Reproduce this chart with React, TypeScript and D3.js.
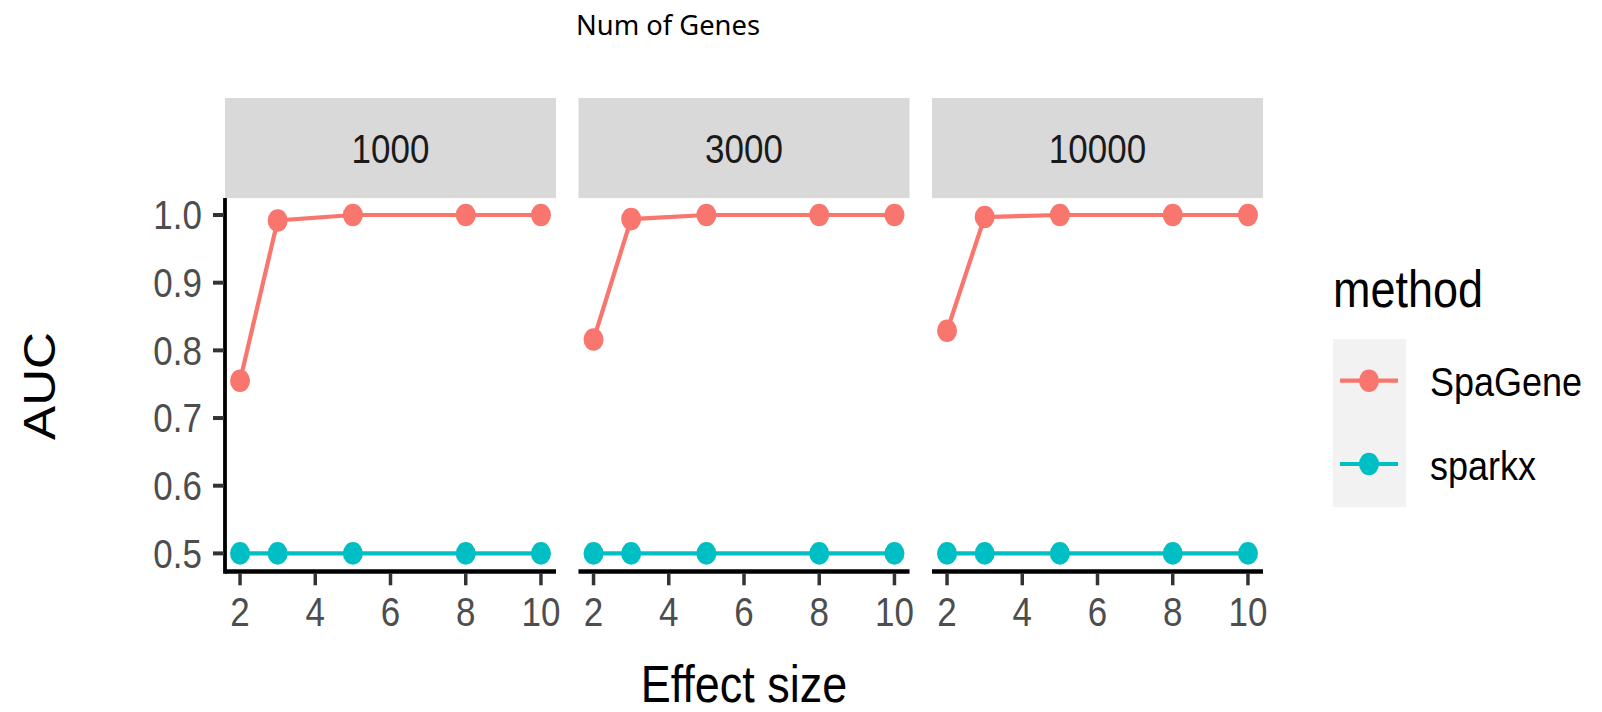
import React from "react";
import * as d3 from "d3";

const effectSizes = [2, 3, 5, 8, 10];
const panels = ["1000", "3000", "10000"];
const methods = ["SpaGene", "sparkx"];
const colors = ["#F8766D", "#00BFC4"];
const spaGene1000 = [0.755, 0.992, 1.0, 1.0, 1.0];
const spaGene3000 = [0.816, 0.994, 1.0, 1.0, 1.0];
const spaGene10000 = [0.829, 0.997, 1.0, 1.0, 1.0];
const sparkx1000 = [0.5, 0.5, 0.5, 0.5, 0.5];
const sparkx3000 = [0.5, 0.5, 0.5, 0.5, 0.5];
const sparkx10000 = [0.5, 0.5, 0.5, 0.5, 0.5];
const xTicks = [2, 4, 6, 8, 10];
const yTicks = [0.5, 0.6, 0.7, 0.8, 0.9, 1.0];

const seriesByPanel = [
  [spaGene1000, sparkx1000],
  [spaGene3000, sparkx3000],
  [spaGene10000, sparkx10000],
];

const W = 1602;
const H = 712;
const SY = 1.135; // vertical stretch of the reference
const panelLefts = [225, 578.5, 932];
const panelW = 331;
const panelTop = 198.1;
const panelBottom = 570.3;
const stripTop = 98;
const FONT = "'Liberation Sans', Arial, sans-serif";

const yScale = d3.scaleLinear().domain([0.475, 1.025]).range([panelBottom, panelTop]);

function HText({ x, y, size, anchor = "middle", fill = "#000", children }: any) {
  return (
    <text
      transform={`translate(${x},${y}) scale(1,${SY})`}
      fontSize={size}
      fontFamily={FONT}
      textAnchor={anchor}
      fill={fill}
    >
      {children}
    </text>
  );
}

export default function App() {
  const tickSize = 35;
  const capHalf = (0.716 * tickSize * SY) / 2;
  return (
    <svg
      width={W}
      height={H}
      style={{ position: "absolute", left: 0, top: 0, background: "#fff" }}
    >
      <rect x={0} y={0} width={W} height={H} fill="#fff" />
      <text
        x={668}
        y={35}
        fontSize={28}
        fontFamily="'Noto Sans', 'Open Sans', sans-serif"
        textAnchor="middle"
        textLength={184}
        lengthAdjust="spacingAndGlyphs"
        fill="#000"
      >
        Num of Genes
      </text>

      {panels.map((p, pi) => {
        const left = panelLefts[pi];
        const x = d3.scaleLinear().domain([1.6, 10.4]).range([left, left + panelW]);
        const line = d3
          .line<number>()
          .x((_, i) => x(effectSizes[i]))
          .y((v) => yScale(v));
        return (
          <g key={p}>
            <rect x={left} y={stripTop} width={panelW} height={panelTop - stripTop} fill="#D9D9D9" />
            <HText x={left + panelW / 2} y={163.3} size={35} fill="#1A1A1A">
              {p}
            </HText>
            {seriesByPanel[pi].map((vals, si) => (
              <g key={si}>
                <path d={line(vals) || ""} fill="none" stroke={colors[si]} strokeWidth={4.2} />
                {vals.map((v, i) => (
                  <ellipse
                    key={i}
                    cx={x(effectSizes[i])}
                    cy={yScale(v)}
                    rx={10}
                    ry={11.3}
                    fill={colors[si]}
                  />
                ))}
              </g>
            ))}
            {/* x axis */}
            <line
              x1={left}
              x2={left + panelW}
              y1={panelBottom + 1.2}
              y2={panelBottom + 1.2}
              stroke="#000"
              strokeWidth={4.5}
            />
            {xTicks.map((t) => (
              <g key={t}>
                <line
                  x1={x(t)}
                  x2={x(t)}
                  y1={panelBottom + 3}
                  y2={panelBottom + 15}
                  stroke="#333333"
                  strokeWidth={3.5}
                />
                <HText x={x(t)} y={626} size={tickSize} fill="#4D4D4D">
                  {t}
                </HText>
              </g>
            ))}
          </g>
        );
      })}

      {/* y axis on first panel */}
      <line
        x1={panelLefts[0]}
        x2={panelLefts[0]}
        y1={panelTop}
        y2={panelBottom + 3.5}
        stroke="#000"
        strokeWidth={3.8}
      />
      {yTicks.map((t) => (
        <g key={t}>
          <line
            x1={panelLefts[0] - 12}
            x2={panelLefts[0] - 1}
            y1={yScale(t)}
            y2={yScale(t)}
            stroke="#333333"
            strokeWidth={4}
          />
          <HText x={202} y={yScale(t) + capHalf} size={tickSize} anchor="end" fill="#4D4D4D">
            {t.toFixed(1)}
          </HText>
        </g>
      ))}

      {/* axis titles */}
      <HText x={744} y={701.7} size={45}>
        Effect size
      </HText>
      <text
        transform={`translate(55,386) rotate(-90) scale(${SY},1)`}
        fontSize={45}
        fontFamily={FONT}
        textAnchor="middle"
        fill="#000"
      >
        AUC
      </text>

      {/* legend */}
      <HText x={1333} y={306.7} size={45} anchor="start">
        method
      </HText>
      <rect x={1333} y={339} width={73} height={168} fill="#F2F2F2" />
      {methods.map((m, i) => {
        const cy = 380.7 + i * 83.3;
        return (
          <g key={m}>
            <line x1={1340} x2={1398} y1={cy} y2={cy} stroke={colors[i]} strokeWidth={4.2} />
            <ellipse cx={1369} cy={cy} rx={10} ry={11.3} fill={colors[i]} />
            <HText x={1430} y={cy + 15.5} size={36} anchor="start">
              {m}
            </HText>
          </g>
        );
      })}
    </svg>
  );
}
